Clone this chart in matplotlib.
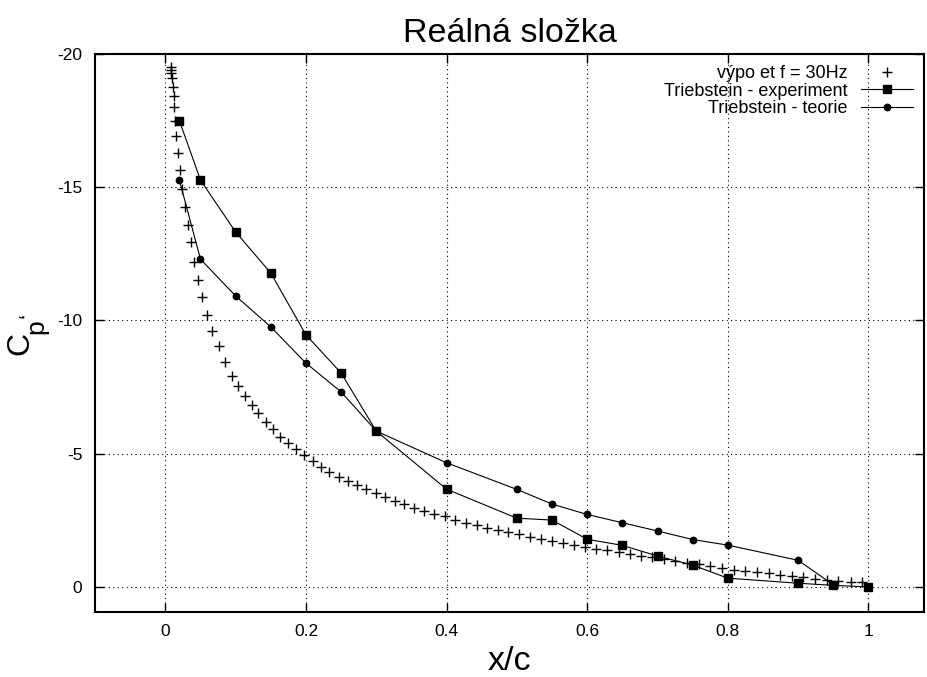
import numpy as np
import matplotlib
matplotlib.use("Agg")
import matplotlib.pyplot as plt

plt.rcParams['font.family'] = ['Liberation Sans', 'DejaVu Sans']

# vypocet f = 30Hz (crosses)
calc_x = [0.0075, 0.0078, 0.0085, 0.0095, 0.0109, 0.0118, 0.0128, 0.0138, 0.0159, 0.0182,
          0.0210, 0.0244, 0.0273, 0.0317, 0.0359, 0.0402, 0.0466, 0.0521, 0.0594, 0.0667,
          0.0757, 0.0849, 0.0947, 0.1040, 0.1135, 0.1230, 0.1324, 0.1429, 0.1528, 0.1636,
          0.1749, 0.1859, 0.1976, 0.2095, 0.2214, 0.2331, 0.2465, 0.2593, 0.2725, 0.2857,
          0.2995, 0.3127, 0.3265, 0.3397, 0.3539, 0.3681, 0.3823, 0.3975, 0.4124, 0.4273,
          0.4429, 0.4581, 0.4731, 0.4873, 0.5029, 0.5185, 0.5337, 0.5503, 0.5659, 0.5810,
          0.5969, 0.6125, 0.6284, 0.6449, 0.6605, 0.6767, 0.6923, 0.7088, 0.7253, 0.7420,
          0.7585, 0.7751, 0.7917, 0.8082, 0.8248, 0.8414, 0.8579, 0.8745, 0.8911, 0.9076,
          0.9242, 0.9408, 0.9574, 0.9750, 0.9915]
calc_cp = [-19.52, -19.40, -19.28, -19.09, -18.78, -18.43, -18.00, -17.50, -16.92, -16.28,
           -15.64, -14.93, -14.24, -13.57, -12.93, -12.21, -11.53, -10.87, -10.22, -9.61,
           -9.03, -8.45, -7.93, -7.55, -7.18, -6.83, -6.52, -6.20, -5.93, -5.64,
           -5.39, -5.17, -4.95, -4.74, -4.52, -4.33, -4.14, -3.98, -3.82, -3.67,
           -3.52, -3.37, -3.24, -3.11, -2.98, -2.86, -2.74, -2.65, -2.53, -2.41,
           -2.32, -2.22, -2.13, -2.06, -1.97, -1.88, -1.80, -1.72, -1.65, -1.57,
           -1.50, -1.43, -1.38, -1.32, -1.24, -1.18, -1.12, -1.05, -0.99, -0.91,
           -0.85, -0.79, -0.72, -0.64, -0.60, -0.55, -0.51, -0.46, -0.41, -0.36,
           -0.30, -0.25, -0.21, -0.20, -0.19]

# Triebstein - experiment
exp_x = [0.02, 0.05, 0.1, 0.15, 0.2, 0.25, 0.3, 0.4, 0.5, 0.55, 0.6, 0.65, 0.7, 0.75, 0.8, 0.9, 0.95, 1.0]
exp_cp = [-17.5, -15.27, -13.32, -11.78, -9.46, -8.03, -5.85, -3.67, -2.58, -2.51, -1.79, -1.56,
          -1.16, -0.82, -0.33, -0.14, -0.06, 0.0]

# Triebstein - teorie
teo_x = [0.02, 0.05, 0.1, 0.15, 0.2, 0.25, 0.3, 0.4, 0.5, 0.55, 0.6, 0.65, 0.7, 0.75, 0.8, 0.9, 0.95]
teo_cp = [-15.27, -12.3, -10.92, -9.76, -8.4, -7.32, -5.85, -4.66, -3.66, -3.11, -2.72, -2.41,
          -2.1, -1.78, -1.57, -1.0, -0.08]

xticks = [0, 0.2, 0.4, 0.6, 0.8, 1]
yticks = [0, -5, -10, -15, -20]

W, H = 928, 677
fig = plt.figure(figsize=(W / 100, H / 100), dpi=100)
ax = fig.add_axes([95 / W, 1 - 612 / H, (924 - 95) / W, (612 - 54) / H])

ax.plot(calc_x, calc_cp, linestyle='none', marker='+', color='black', markersize=6.5,
        markeredgewidth=1.0, label='výpo et f = 30Hz')
ax.plot(exp_x, exp_cp, color='black', linewidth=0.8, marker='s', markersize=5.3,
        label='Triebstein - experiment')
ax.plot(teo_x, teo_cp, color='black', linewidth=0.8, marker='o', markersize=4.6,
        label='Triebstein - teorie')

ax.set_xlim(-0.1, 1.079)
ax.set_ylim(0.94, -20)
ax.set_xticks(xticks)
ax.set_xticklabels([str(t) for t in xticks])
ax.set_yticks(yticks)
ax.set_yticklabels([str(t) for t in yticks])
ax.tick_params(direction='in', length=6.5, width=1, labelsize=12.5, top=True, right=True, pad=9)
ax.grid(True, color='black', linestyle=(0, (1, 3)), linewidth=0.8)
for s in ax.spines.values():
    s.set_linewidth(1.5)

ax.set_title('Reálná složka', fontsize=24.5, pad=9)
ax.set_xlabel('x/c', fontsize=24.5, labelpad=5)

# y label  C_p ' built from pieces like the gnuplot enhanced text
fig.text(28 / W, 1 - 355 / H, 'C', fontsize=23, rotation=90, rotation_mode='anchor',
         ha='left', va='baseline')
fig.text(43 / W, 1 - 334 / H, 'p', fontsize=19, rotation=90, rotation_mode='anchor',
         ha='left', va='baseline')
fig.text(35 / W, 1 - 318 / H, '‘', fontsize=17, rotation=90, rotation_mode='anchor',
         ha='left', va='baseline')

ax.legend(loc='upper right', frameon=False, markerfirst=False, fontsize=13,
          handlelength=2.9, labelspacing=0.04, borderaxespad=0.3, borderpad=0.3,
          handletextpad=0.75)

fig.savefig('out.png', dpi=100)
